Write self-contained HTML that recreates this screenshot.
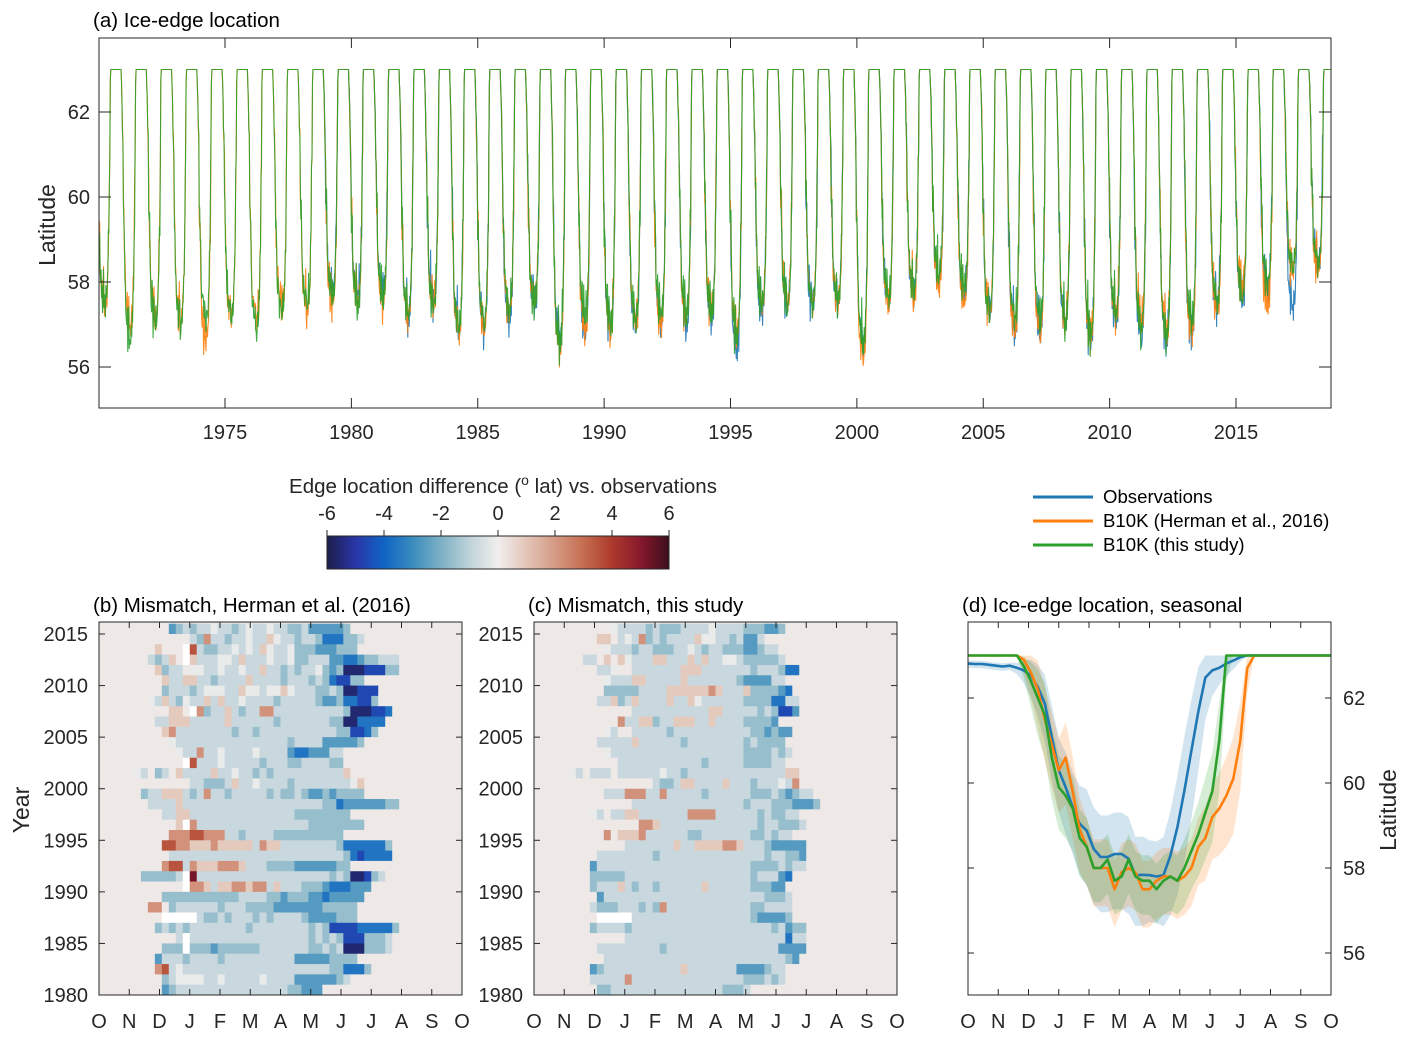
<!DOCTYPE html>
<html><head><meta charset="utf-8">
<style>
html,body{margin:0;padding:0;background:#fff;}
svg{display:block;font-family:"Liberation Sans",Arial,sans-serif;}
</style></head>
<body>
<svg id="fig" width="1409" height="1041" viewBox="0 0 1409 1041" xmlns="http://www.w3.org/2000/svg">
<defs>
<clipPath id="clipA"><rect x="99" y="38" width="1232" height="370"/></clipPath>
<clipPath id="clipD"><rect x="968" y="622" width="363" height="373"/></clipPath>
<linearGradient id="cbgrad" x1="0" x2="1" y1="0" y2="0"></linearGradient>
</defs>
<g id="panelA"></g>
<g id="panelB"></g>
<g id="panelC"></g>
<g id="panelD"></g>
<g id="cbar"></g>
<g id="legend"></g>
</svg>
<script>
// ---------- DATA ----------
const seasonYears = [1970,1971,1972,1973,1974,1975,1976,1977,1978,1979,1980,1981,1982,1983,1984,1985,1986,1987,1988,1989,1990,1991,1992,1993,1994,1995,1996,1997,1998,1999,2000,2001,2002,2003,2004,2005,2006,2007,2008,2009,2010,2011,2012,2013,2014,2015,2016,2017,2018];
const minThisStudy = [57.0,56.1,56.5,56.5,56.6,56.7,56.4,56.8,57.0,57.2,57.0,57.2,56.8,57.0,56.5,56.6,56.9,57.0,56.0,56.7,56.5,56.6,56.8,56.8,56.8,56.2,57.0,57.0,57.0,57.1,56.1,57.2,57.4,57.8,57.4,56.8,56.6,56.6,56.5,56.2,56.8,56.4,56.2,56.6,57.0,57.2,57.5,57.9,58.0];
const minHerman = [57.0,56.5,56.7,56.6,56.1,56.7,56.6,56.9,56.8,57.0,57.1,57.0,56.7,57.0,56.3,56.4,56.8,57.1,55.9,56.4,56.4,56.6,56.5,56.6,56.8,56.3,57.0,57.0,57.0,57.0,55.7,57.0,57.2,57.5,57.1,56.8,56.4,56.3,56.6,56.2,56.7,56.5,56.3,56.3,56.9,57.4,57.0,57.8,57.8];
const minObs = [null,null,null,null,null,null,null,null,null,57.3,57.2,57.2,56.6,57.0,56.4,56.4,56.6,57.0,56.2,56.3,56.4,56.5,56.6,56.5,56.7,55.9,56.8,56.9,56.9,57.0,56.0,57.0,57.2,57.6,57.2,56.8,56.4,56.4,56.6,56.1,56.6,56.2,56.1,56.3,56.9,57.1,57.3,56.9,58.0];
const seasonShape = [0,0,0,0,0,0,0,0,0.05,0.12,0.2,0.3,0.45,0.55,0.6,0.68,0.78,0.82,0.9,0.9,0.88,0.98,0.94,0.88,0.95,1.0,0.97,0.98,0.95,0.93,0.95,0.88,0.8,0.72,0.62,0.5,0.3,0.05,0,0,0,0,0,0,0,0,0,0,0,0,0,0];
const wiggle = [0.3,-0.6,0.9,-0.2,1.4,-0.8,0.1,1.1,-0.5,0.6,-1.0,0.4,1.6,-0.3,0.2,-0.9,0.8,-0.1,1.2,-0.7,0.5,-0.4,0.9,0.0,-0.6,1.0,-0.2,0.7,-1.1,0.3,0.6,-0.5,1.3,-0.4,0.2,0.8,-0.3,0.5,-0.8,0.1,1.0,-0.6,0.4,0.7,-0.2,-0.9,0.6,0.2,-0.4,1.1,-0.1,0.3];
const yearTicks = [1975,1980,1985,1990,1995,2000,2005,2010,2015];
const latTicks = [56,58,60,62];

const codeChars = ['.','r','R','S','T','o','b','c','d','e','f','g'];
const codeVals  = [0.12,0.9,2.2,3.5,5.2,-0.15,-0.8,-1.6,-2.6,-3.6,-4.6,-5.6];
const gridHerman = [
"..........dcbcbbobbcbobbobbccbdddddc",
".............bcRbbcbbobbrobbcbbceeeccb",
"........r...wSbccbbobobrobbocccdddccc",
".......bcbr.wrbbboobrbbbobboccbbbddeedccbbb",
"........rcbb.oobbobbobbrbbcbcbbocdcgggfffcc",
".........rbbrrbbcbbbbrbbbbcbbbcbceffcc",
".........cbbbcbooobbrooboorobbbccbcggfff",
".......obrbcobbrbrbbobbbbcbbbbbcddceeffc",
"..........rr.wRcbbrbcbbRRbbbbbbbbbbcgggffe",
"........bbrrrbbbbbrbbbbbbcbbbbbbbccggeeee",
".........rRbbbbbbbbcbbcbbbbbbbbbbbccffec",
"..........obbbbbbbbbbbbbbbbcbbbbdddddc",
"...........obbRbbobbbbobbbbdeedddbb",
"............wSbbbobbbbbcbbbccbbbbcc",
".....ob.cb.rbbbbrbbobbcbcbbbbbbbbbbr",
".............bbcccbrbbobbbbcbbbbbbbbor",
"......cbbrrrbcbRbbcbbbbbcbccbcddcdcccc",
".......bbbbrbbbbbbbbbbbbbbbbbbbbcceddddddcc",
".........bbrrbbbbbbbbbbbbbbbcccccccc",
"...........rwRbbbbbbbbbbbbbbbbcccccccc",
"..........RRRSSRRRbbcbbbbcccccccccc",
".........SSRRrrrRrrrrrbRrrbbbbbbbbceeeeeec",
"..........bbbbbbbbbbbbbbbbbbbbbbbbbcefeeee",
".........RSSbRrrrRRRrbbbccccddddddcc",
"......cccccbwTbbbbbbbbbbbbbbbbbbbcbcggfcb",
"............wRRrbrrRRrRRbrbbbcccdeeeddd",
".........cccccccccccbbbbccdcccddeddddd",
".......RR.cbbbbbbcbbbccccdddddddccccc",
".........wwwwwbccbcbbbcbcbbbbcddddccc",
"........cbcbcbbbbbbbbcbbbbbbbbcbcffffeeeeec",
"...........bwbbbbbbbbbbbbbbbbbcbcbcfffcccb",
".........cccwcccdccccccbbbbbbbccbcbgggcccb",
"........dbbbcbbbbcbbbbbbbbbbdddddcccc",
"........RSbobbbbbbbbbbbbbbbbbbbbbcceeec",
".........cboooobbobbbbbobbbbddddddcb",
".........dcbbbbbbbbbbbbbbbbccddd.."];
const gridThis = [
"...........obbbbcbcccbbbbobbbbcccddc",
".........rr.bobRcbcbbbbroobbcbddb",
"..........obbbcbbcccbbobcbbcccddcbb",
".......bb.r.robbbrrbbbrbrbboobcccccb",
".........bbo..bbbbbbbrrrbbbbbbbcbbbcee",
"..........obbbrrbbbbbrbbbbbbbcddddbb",
"..........cccccbbbbrrrrrrRrbbbrccccde",
".........bbrcbrbbbbrbbrobbbbbbcccceebb",
"..............bbbbbbbbbbbrrbbbbbcbcffd",
"............Rbbrrcbbrrrbbrbbbbccccd",
"..........ob..bbbbbcbbbbbbbbbbbccdcdd",
".........bbbbbrbbbbbbcbbbbbbbbcbcccc",
"..........obbbbbbbbbbbbbbbbbbbccccbcb",
"............bbbbbbbbbbbbcbbbbbccccbb",
".....ob.bbb.bbbbbbobbcbbbbbbbbbbbbbbrr",
".................bccbrrbbbbrbbbcbbbobR",
"..........bbbRRRbbRbbbbbcbbbbbbcccbcdcbb",
"..............bbbbbbbbbbbbbbbbcbbbcccdddc",
"........ob.bbrrbbbbbbbRRRRbbbbbbcbccbb",
"...............RRrbbbbbbbbbbbbbbcbbcccb",
"..........R.rrrRbbbbbbccbbbbbbbccbcbb",
".............bbbbbbbrbbrrrrRRrbbbcddddd",
".........bbbbbbbbcbbbbbbbbbbbbbbbcbbccd",
"........dbbbbbbbbbbbbbbbbbbbbbbccccbcbb",
"........cccccbbbbbbbbbbbbbbbbbbcbbbde",
"........cbbbrbcbbcbbbbbbrbbbbbbcccdd",
".........dbbbbbbbbbbbbbbbbbbbbbbbcccb",
"........bcccbbbcbcRbbbbbbbbbbbbccbbbb",
".........wwwwwbbbbbbbbbbbbbbbbbcddddc",
"........cbbbbcbbbbbbbbbbbbbbbbbbbbcbdcc",
".............bbbbbbbbbbbbbbbbbbbbbbbebb",
".........bbbbbbbbbcbbbbbbbbbbbbbbbbdddd",
"..........bbbbbbbbbbbbbbbbbbbbbbbbbbcd",
"........dcbbbbbbbbbbbrbbbbbbbddddcbb",
"........bbbbbRbbbbbbbbbbbbbbbbcccbcb",
".........ccbbbbbbbbbbbbbbbbcccb.."];
const gridYears = [2015,2014,2013,2012,2011,2010,2009,2008,2007,2006,2005,2004,2003,2002,2001,2000,1999,1998,1997,1996,1995,1994,1993,1992,1991,1990,1989,1988,1987,1986,1985,1984,1983,1982,1981,1980];
const heatYearTicks = [1980,1985,1990,1995,2000,2005,2010,2015];
const monthLabels = ['O','N','D','J','F','M','A','M','J','J','A','S','O'];
const cbTicks = [-6,-4,-2,0,2,4,6];

const dObs = [62.81,62.8,62.8,62.78,62.76,62.74,62.76,62.71,62.65,62.53,62.26,61.87,61.08,60.30,59.90,59.43,59.04,58.88,58.45,58.26,58.26,58.33,58.33,58.22,57.83,57.84,57.83,57.80,57.83,58.29,58.96,59.82,60.76,61.69,62.48,62.65,62.71,62.81,62.88,62.96,63,63,63,63,63,63,63,63,63,63,63,63,63];
const dHerman = [63,63,63,63,63,63,63,63,62.9,62.6,62.2,61.5,60.9,60.3,60.6,59.8,58.9,58.5,58.0,58.0,58.0,57.5,57.9,58.0,57.9,57.5,57.5,57.7,57.8,57.8,57.7,57.8,58.0,58.5,58.7,59.2,59.4,59.7,60.1,61.0,62.7,63,63,63,63,63,63,63,63,63,63,63,63];
const dThis = [63,63,63,63,63,63,63,63,62.75,62.4,62.0,61.6,60.6,59.9,59.7,59.4,58.7,58.5,58.0,58.0,58.2,57.7,57.8,58.2,57.8,57.7,57.7,57.5,57.7,57.8,57.7,58.0,58.4,58.8,59.3,59.8,61.0,63,63,63,63,63,63,63,63,63,63,63,63,63,63,63,63];
const spreadObs = [0.1,0.1,0.1,0.1,0.1,0.1,0.1,0.15,0.3,0.5,0.7,0.9,1.0,1.0,1.1,1.1,1.2,1.3,1.3,1.3,1.3,1.3,1.3,1.3,1.2,1.2,1.1,1.1,1.2,1.4,1.6,1.7,1.6,1.4,1.0,0.6,0.4,0.3,0.2,0.1,0,0,0,0,0,0,0,0,0,0,0,0,0];
const spreadHerman = [0,0,0,0,0,0,0,0,0.3,0.6,0.9,1.0,1.0,1.0,1.1,1.1,1.0,0.9,0.9,0.9,0.9,0.9,0.9,0.9,0.9,0.9,0.9,0.9,0.9,0.9,0.9,0.9,0.9,0.9,1.0,1.0,1.1,1.2,1.3,1.2,0.6,0,0,0,0,0,0,0,0,0,0,0,0];
const spreadThis = [0,0,0,0,0,0,0,0,0.3,0.6,0.9,1.0,1.0,1.0,1.0,1.0,0.9,0.9,0.8,0.8,0.8,0.8,0.8,0.8,0.8,0.8,0.8,0.8,0.8,0.8,0.8,0.9,0.9,1.0,1.1,1.2,1.2,0.6,0,0,0,0,0,0,0,0,0,0,0,0,0,0,0];
const dLatTicks = [56,58,60,62];

// ---------- HELPERS ----------
const NS='http://www.w3.org/2000/svg';
function mk(tag, attrs, parent){const e=document.createElementNS(NS,tag);for(const k in attrs)e.setAttribute(k,attrs[k]);parent.appendChild(e);return e;}
function txt(s, attrs, parent){const e=mk('text',attrs,parent);e.textContent=s;return e;}
const C_BLUE='#1f77b4', C_ORANGE='#ff7f0e', C_GREEN='#2ca02c';
const FT=20, FTITLE=20.5, FAX=23;
const cmapStops=[[-6,[28,30,74]],[-5,[42,54,168]],[-4,[15,100,196]],[-3,[58,140,190]],[-2,[125,176,196]],[-1,[191,211,218]],[0,[240,238,237]],[1,[227,197,184]],[2,[213,154,132]],[3,[197,109,80]],[4,[173,58,44]],[5,[135,24,44]],[6,[60,15,28]]];
function cmap(v){v=Math.max(-6,Math.min(6,v));for(let i=0;i<cmapStops.length-1;i++){const a=cmapStops[i],b=cmapStops[i+1];if(v<=b[0]){const t=(v-a[0])/(b[0]-a[0]);const c=a[1].map((x,j)=>Math.round(x+(b[1][j]-x)*t));return 'rgb('+c.join(',')+')';}}return 'rgb(60,15,28)';}

// ---------- PANEL A ----------
(function(){
const g=document.getElementById('panelA');
const X0=99,X1=1331,Y0=38,Y1=408;
const xA=t=>225+(t-1975)*(1236-225)/40;
const yA=l=>112+(62-l)*42.5;
const ttl=txt('(a) Ice-edge location',{x:93,y:27,'font-size':FTITLE,fill:'#000'},g);


const series=[[minObs,C_BLUE,'observations-line',5],[minHerman,C_ORANGE,'herman-line',17],[minThisStudy,C_GREEN,'this-study-line',31]];
const lg=mk('g',{'clip-path':'url(#clipA)'},g);
series.forEach(([mins,col,name,off])=>{
  let d='';let pen=false;
  seasonYears.forEach((Y,i)=>{
    const m=mins[i];
    if(m===null){pen=false;return;}
    for(let w=0;w<52;w++){
      const f=seasonShape[w];
      let v=63-f*(63-m);
      if(f>0&&f<1)v+=wiggle[(w+i*7+off)%wiggle.length]*0.6*Math.min(f,1-f)*2;
      if(f>=0.85)v+=Math.abs(wiggle[(w+i*3+off)%wiggle.length])*0.5;
      v=Math.min(63,v);
      const t=Y-1+0.75+w/52;
      d+=(pen?'L':'M')+xA(t).toFixed(1)+','+yA(v).toFixed(1);
      pen=true;
    }
  });
  const p=mk('path',{d:d,fill:'none',stroke:col,'stroke-width':1.1,'stroke-opacity':0.9,'stroke-linejoin':'round'},lg);
  
  
});
const box=mk('rect',{x:X0,y:Y0,width:X1-X0,height:Y1-Y0,fill:'none',stroke:'#262626','stroke-width':1},g);


yearTicks.forEach(yr=>{const x=xA(yr);
  mk('line',{x1:x,x2:x,y1:Y1,y2:Y1-10,stroke:'#262626'},g);
  mk('line',{x1:x,x2:x,y1:Y0,y2:Y0+10,stroke:'#262626'},g);
  const l=txt(String(yr),{x:x,y:439,'font-size':FT,'text-anchor':'middle',fill:'#262626'},g);
  
  
});
latTicks.forEach(v=>{const y=yA(v);
  mk('line',{x1:X0,x2:X0+12,y1:y,y2:y,stroke:'#262626'},g);
  mk('line',{x1:X1,x2:X1-12,y1:y,y2:y,stroke:'#262626'},g);
  const l=txt(String(v),{x:90,y:y+7,'font-size':FT,'text-anchor':'end',fill:'#262626'},g);
  
  
});
const yt=txt('Latitude',{x:0,y:0,'font-size':FAX,'text-anchor':'middle',fill:'#262626',transform:'translate(55,225) rotate(-90)'},g);


})();

// ---------- PANELS B, C ----------
function heatPanel(gid,grid,X0,title,yTitle,lblX){
const g=document.getElementById(gid);
const W=363,Y0=622,Y1=995;
const yH=yr=>995-(yr-1980)*(995-634)/35;
const cw=W/52;
mk('rect',{x:X0,y:Y0,width:W,height:Y1-Y0,fill:cmap(0.12)},g);
grid.forEach((row,ri)=>{
  const yr=gridYears[ri];
  const yt=Math.max(Y0,yH(yr+1)), yb=yH(yr);
  for(let c=0;c<52;c++){
    const ch=c<row.length?row[c]:'.';
    let fill;
    if(ch==='w')fill='#ffffff';
    else fill=cmap(codeVals[codeChars.indexOf(ch)]);
    const r=mk('rect',{x:(X0+c*cw).toFixed(2),y:yt.toFixed(2),width:(cw+0.4).toFixed(2),height:(yb-yt+0.4).toFixed(2),fill:fill},g);
    
    
  }
});
const box=mk('rect',{x:X0,y:Y0,width:W,height:Y1-Y0,fill:'none',stroke:'#262626'},g);


const t=txt(title,{x:X0-6,y:612,'font-size':FTITLE,fill:'#000'},g);


monthLabels.forEach((m,i)=>{const x=X0+i*W/12;
  mk('line',{x1:x,x2:x,y1:Y1,y2:Y1-6,stroke:'#262626'},g);
  mk('line',{x1:x,x2:x,y1:Y0,y2:Y0+6,stroke:'#262626'},g);
  const l=txt(m,{x:x,y:1028,'font-size':FT,'text-anchor':'middle',fill:'#262626'},g);
  
  
});
heatYearTicks.forEach(yr=>{const y=yH(yr);
  mk('line',{x1:X0,x2:X0+6,y1:y,y2:y,stroke:'#262626'},g);
  mk('line',{x1:X0+W,x2:X0+W-6,y1:y,y2:y,stroke:'#262626'},g);
  const l=txt(String(yr),{x:lblX,y:y+7,'font-size':FT,'text-anchor':'end',fill:'#262626'},g);
  
  
});
if(yTitle){const yt2=txt('Year',{x:0,y:0,'font-size':FAX,'text-anchor':'middle',fill:'#262626',transform:'translate(29,810) rotate(-90)'},g);
  
  }
}
heatPanel('panelB',gridHerman,99,'(b) Mismatch, Herman et al. (2016)',true,88);
heatPanel('panelC',gridThis,534,'(c) Mismatch, this study',false,523);

// ---------- COLORBAR ----------
(function(){
const g=document.getElementById('cbar');
const X0=327,X1=669,Y0=536,Y1=569;
const grad=document.getElementById('cbgrad');
cmapStops.forEach(s=>mk('stop',{offset:((s[0]+6)/12).toFixed(3),'stop-color':'rgb('+s[1].join(',')+')'},grad));
const r=mk('rect',{x:X0,y:Y0,width:X1-X0,height:Y1-Y0,fill:'url(#cbgrad)',stroke:'#262626'},g);


cbTicks.forEach(v=>{const x=X0+(v+6)/12*(X1-X0);
  mk('line',{x1:x,x2:x,y1:Y0-6,y2:Y0,stroke:'#262626'},g);
  const l=txt(String(v),{x:x,y:520,'font-size':FT,'text-anchor':'middle',fill:'#262626'},g);
  
  
});
const t=mk('text',{x:503,y:493,'font-size':20.5,'text-anchor':'middle',fill:'#262626'},g);
t.innerHTML='Edge location difference (<tspan dy="-8" font-size="14">o</tspan><tspan dy="8"> lat) vs. observations</tspan>';


})();

// ---------- PANEL D ----------
(function(){
const g=document.getElementById('panelD');
const X0=968,X1=1331,Y0=622,Y1=995;
const xD=w=>X0+w*(X1-X0)/52;
const yD=l=>698+(62-l)*42.5;
const t=txt('(d) Ice-edge location, seasonal',{x:962,y:612,'font-size':FTITLE,fill:'#000'},g);


const cg=mk('g',{'clip-path':'url(#clipD)'},g);
const ser=[[dObs,spreadObs,C_BLUE,'obs'],[dHerman,spreadHerman,C_ORANGE,'herman'],[dThis,spreadThis,C_GREEN,'this-study']];
ser.forEach(([vals,sp,col,nm])=>{
  let up='',lo='';
  vals.forEach((v,i)=>{up+=(i?'L':'M')+xD(i).toFixed(1)+','+yD(Math.min(63,v+sp[i]*0.75)).toFixed(1);});
  for(let i=vals.length-1;i>=0;i--){lo+='L'+xD(i).toFixed(1)+','+yD(vals[i]-sp[i]).toFixed(1);}
  const b=mk('path',{d:up+lo+'Z',fill:col,'fill-opacity':0.2,stroke:'none'},cg);
  
  
});
ser.forEach(([vals,sp,col,nm])=>{
  let d='';vals.forEach((v,i)=>{d+=(i?'L':'M')+xD(i).toFixed(1)+','+yD(v).toFixed(1);});
  const p=mk('path',{d:d,fill:'none',stroke:col,'stroke-width':2.6,'stroke-linejoin':'round'},cg);
  
  
});
const box=mk('rect',{x:X0,y:Y0,width:X1-X0,height:Y1-Y0,fill:'none',stroke:'#262626'},g);


monthLabels.forEach((m,i)=>{const x=X0+i*(X1-X0)/12;
  mk('line',{x1:x,x2:x,y1:Y1,y2:Y1-6,stroke:'#262626'},g);
  mk('line',{x1:x,x2:x,y1:Y0,y2:Y0+6,stroke:'#262626'},g);
  const l=txt(m,{x:x,y:1028,'font-size':FT,'text-anchor':'middle',fill:'#262626'},g);
  
  
});
dLatTicks.forEach(v=>{const y=yD(v);
  mk('line',{x1:X0,x2:X0+6,y1:y,y2:y,stroke:'#262626'},g);
  mk('line',{x1:X1,x2:X1-6,y1:y,y2:y,stroke:'#262626'},g);
  const l=txt(String(v),{x:1343,y:y+7,'font-size':FT,fill:'#262626'},g);
  
  
});
const yt=txt('Latitude',{x:0,y:0,'font-size':FAX,'text-anchor':'middle',fill:'#262626',transform:'translate(1396,810) rotate(-90)'},g);


})();

// ---------- LEGEND ----------
(function(){
const g=document.getElementById('legend');
const items=[['Observations',C_BLUE],['B10K (Herman et al., 2016)',C_ORANGE],['B10K (this study)',C_GREEN]];
items.forEach(([lab,col],i)=>{const y=497+i*24;
  const ln=mk('line',{x1:1033,x2:1093,y1:y,y2:y,stroke:col,'stroke-width':3},g);
  
  
  const t=txt(lab,{x:1103,y:y+6,'font-size':18.6,fill:'#000'},g);
  
  
});
})();
</script>
</body></html>
